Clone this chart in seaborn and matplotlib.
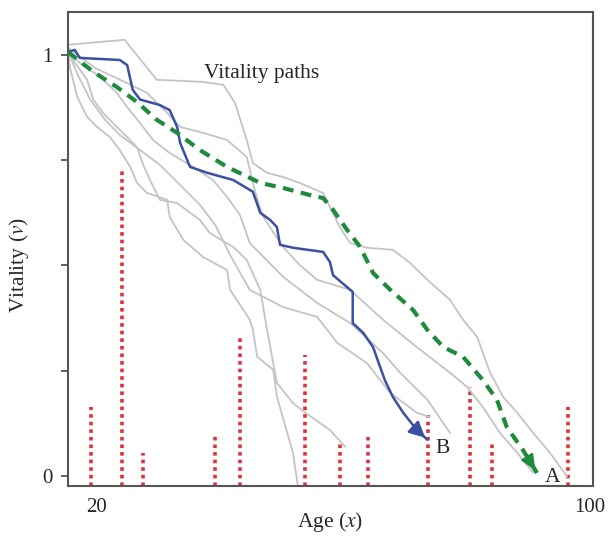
import numpy as np
import seaborn as sns
import matplotlib.pyplot as plt

# Mean path A (green, dashed)
age_a = [15.3, 19.4, 23.2, 26.5, 29.7, 33.0, 36.7, 41.1, 46.5, 50.2, 54.6, 56.7, 58.3,
         60.6, 62.7, 64.8, 67.6, 71.3, 73.6, 76.2, 79.4, 82.6, 84.9, 86.5, 89.1, 91.4]
vit_a = [1.007, 0.960, 0.924, 0.888, 0.846, 0.815, 0.774, 0.734, 0.696, 0.684, 0.667, 0.660, 0.632,
         0.584, 0.544, 0.482, 0.442, 0.394, 0.347, 0.306, 0.283, 0.228, 0.181, 0.116, 0.062, 0.007]

# Single path B (blue)
age_b = [15.3, 16.4, 17.2, 23.7, 24.9, 25.8, 27.0, 30.2, 31.8, 33.0, 33.5, 35.1, 37.9, 42.1, 45.3,
         46.5, 48.1, 49.2, 49.7, 51.8, 56.7, 57.8, 58.3, 61.5, 61.5, 63.2, 64.8, 66.7, 68.0, 69.7,
         71.9, 73.6]
vit_b = [1.007, 1.012, 0.993, 0.988, 0.976, 0.917, 0.894, 0.881, 0.869, 0.829, 0.791, 0.734, 0.720,
         0.703, 0.675, 0.625, 0.608, 0.591, 0.549, 0.542, 0.532, 0.508, 0.477, 0.437, 0.363, 0.340,
         0.306, 0.228, 0.188, 0.150, 0.109, 0.086]

# Other vitality paths (gray)
gray_ages = [
    [15.3, 24.5, 25.4, 27.5, 29.7, 37.2, 40.5, 42.4, 44.3, 45.3, 47.6, 50.2, 52.9, 56.7, 57.8,
     59.4, 61.1, 63.8, 68.0, 70.8, 73.6, 77.3, 79.4, 81.7, 83.8, 85.9, 88.2, 90.8, 93.5, 96.3],
    [15.3, 19.7, 24.9, 28.1, 31.4, 33.5, 37.2, 41.1, 44.3, 45.6, 46.8, 48.9, 50.2, 52.9, 55.7,
     61.1, 66.4, 71.9, 77.3, 80.1, 82.6, 85.4, 88.2, 90.8],
    [15.3, 17.2, 20.5, 23.2, 24.9, 27.0, 29.1, 31.8, 35.6, 38.8, 41.1, 43.2, 44.8, 50.2, 55.7,
     61.1, 66.4, 69.2, 73.6, 77.3],
    [15.3, 16.9, 18.9, 21.3, 23.7, 27.0, 30.2, 33.5, 36.7, 39.2, 41.6, 44.8, 50.2, 55.7, 59.0,
     63.8, 67.6, 71.9, 74.0],
    [15.3, 16.1, 18.4, 19.4, 21.0, 23.2, 24.9, 26.5, 27.5, 28.6, 30.2, 33.0, 36.7, 38.3, 42.1,
     44.3, 46.5, 47.6, 48.6, 49.2, 51.8, 53.8, 57.8, 60.3],
    [15.3, 15.6, 16.8, 18.4, 20.0, 22.1, 23.7, 25.4, 26.5, 28.1, 31.4, 31.8, 34.0, 37.2, 41.1,
     41.6, 44.8, 45.3, 46.0, 48.6, 49.2, 51.8, 52.6],
]
gray_vits = [
    [1.024, 1.036, 1.019, 0.981, 0.941, 0.936, 0.929, 0.886, 0.798, 0.743, 0.720, 0.710, 0.696,
     0.672, 0.639, 0.591, 0.553, 0.542, 0.537, 0.506, 0.466, 0.418, 0.371, 0.330, 0.245, 0.188,
     0.150, 0.102, 0.055, -0.002],
    [1.017, 0.969, 0.933, 0.910, 0.862, 0.829, 0.815, 0.798, 0.758, 0.679, 0.620, 0.572, 0.544,
     0.501, 0.466, 0.442, 0.371, 0.306, 0.245, 0.211, 0.164, 0.102, 0.055, 0.007],
    [1.012, 0.981, 0.948, 0.910, 0.876, 0.838, 0.798, 0.767, 0.734, 0.703, 0.663, 0.620, 0.553,
     0.473, 0.411, 0.363, 0.292, 0.245, 0.181, 0.102],
    [1.007, 0.952, 0.894, 0.846, 0.810, 0.774, 0.739, 0.691, 0.644, 0.596, 0.525, 0.442, 0.401,
     0.378, 0.316, 0.268, 0.197, 0.150, 0.140],
    [1.0, 0.988, 0.941, 0.894, 0.862, 0.829, 0.805, 0.781, 0.739, 0.703, 0.656, 0.648, 0.608,
     0.577, 0.544, 0.513, 0.442, 0.347, 0.268, 0.221, 0.173, 0.150, 0.109, 0.069],
    [1.0, 0.971, 0.900, 0.853, 0.829, 0.805, 0.774, 0.734, 0.696, 0.672, 0.656, 0.615, 0.561,
     0.520, 0.489, 0.442, 0.371, 0.347, 0.283, 0.252, 0.188, 0.055, -0.024],
]

# Death-age distribution (red dotted bars)
death_age = [19.0, 24.1, 27.5, 39.2, 43.2, 53.8, 59.4, 64.0, 73.7, 80.6, 84.1, 96.4]
death_height = [0.164, 0.732, 0.055, 0.095, 0.330, 0.287, 0.083, 0.093, 0.145, 0.211, 0.081, 0.164]

x_ticks = [20, 100]
x_ticklabels = ['20', '100']
y_ticks = [0, 0.25, 0.5, 0.75, 1]
y_ticklabels = ['0', '', '', '', '1']

sns.set_theme(style='white')
plt.rcParams['font.family'] = ['Liberation Serif', 'DejaVu Serif']
plt.rcParams['mathtext.fontset'] = 'stix'

fig = plt.figure(figsize=(6.1, 5.36), dpi=100)
ax = fig.add_axes([0.1115, 0.0933, 0.8607, 0.8843])

ylow = -0.024
ax.vlines(death_age, ylow, death_height, colors='#e0303c', linewidth=2.6,
          linestyles=[(0, (1, 1.1))], zorder=1)

for ga, gv in zip(gray_ages, gray_vits):
    sns.lineplot(x=ga, y=gv, sort=False, estimator=None, ax=ax, color='#c4c4c4', linewidth=1.3, zorder=2)

sns.lineplot(x=age_b, y=vit_b, sort=False, estimator=None, ax=ax, color='#3b4fa3', linewidth=1.8, zorder=3)
sns.lineplot(x=age_a, y=vit_a, sort=False, estimator=None, ax=ax, color='#1f8a3c', linewidth=3.0,
             zorder=4).lines[-1].set_dashes((2.6, 1.8))

ax.annotate('', xy=(age_b[-1], vit_b[-1]), xytext=(age_b[-2], vit_b[-2]),
            arrowprops=dict(arrowstyle='-|>,head_length=0.8,head_width=0.4', color='#3b4fa3', lw=1.8),
            zorder=5)
ax.annotate('', xy=(age_a[-1], vit_a[-1]), xytext=(age_a[-2], vit_a[-2]),
            arrowprops=dict(arrowstyle='-|>,head_length=0.8,head_width=0.35', color='#1f8a3c', lw=1.5),
            zorder=5)

ax.text(age_b[-1] + 1.3, vit_b[-1] - 0.02, 'B', fontsize=15.5, va='center', ha='left')
ax.text(age_a[-1] + 1.2, vit_a[-1] - 0.01, 'A', fontsize=15.5, va='center', ha='left')
ax.text(37.3, 0.957, 'Vitality paths', fontsize=15.5, va='center', ha='left')

ax.set_xlim(15.3, 100.5)
ax.set_ylim(ylow, 1.102)
ax.set_xticks(x_ticks)
ax.set_xticklabels(x_ticklabels)
ax.set_yticks(y_ticks)
ax.set_yticklabels(y_ticklabels)
ax.tick_params(axis='x', length=0, pad=9, labelsize=15)
ax.tick_params(axis='y', left=True, length=5, width=1.2, color='#444444', pad=6, labelsize=15)

for s in ax.spines.values():
    s.set_color('#555555')
    s.set_linewidth(1.5)

ax.set_xlabel('Age ($x$)', fontsize=15.5)
ax.set_ylabel('Vitality ($v$)', fontsize=15.5)
ax.xaxis.set_label_coords(0.5, -0.05)
ax.yaxis.set_label_coords(-0.07, 0.466)

fig.savefig('out.png', dpi=100)
